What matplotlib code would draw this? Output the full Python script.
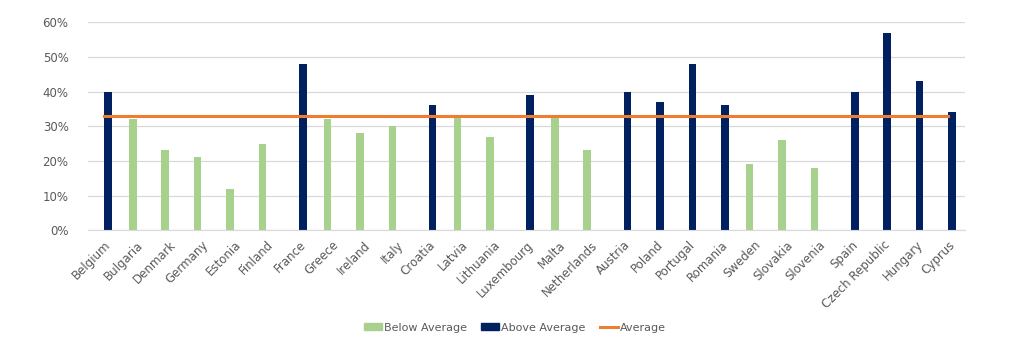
import numpy as np
import matplotlib.pyplot as plt
from matplotlib.patches import Patch
from matplotlib.lines import Line2D
from matplotlib.ticker import PercentFormatter

countries = ["Belgium", "Bulgaria", "Denmark", "Germany", "Estonia", "Finland",
             "France", "Greece", "Ireland", "Italy", "Croatia", "Latvia",
             "Lithuania", "Luxembourg", "Malta", "Netherlands", "Austria",
             "Poland", "Portugal", "Romania", "Sweden", "Slovakia", "Slovenia",
             "Spain", "Czech Republic", "Hungary", "Cyprus"]
below_avg = [None, 32, 23, 21, 12, 25, None, 32, 28, 30, None, 33, 27, None,
             33, 23, None, None, None, None, 19, 26, 18, None, None, None, None]
above_avg = [40, None, None, None, None, None, 48, None, None, None, 36, None,
             None, 39, None, None, 40, 37, 48, 36, None, None, None, 40, 57, 43, 34]
average = 33

GREEN = "#A9D18E"
NAVY = "#002060"
ORANGE = "#ED7D31"
TXT = "#595959"

plt.rcParams["font.family"] = ["DejaVu Sans"]
plt.rcParams["font.size"] = 8.5

fig = plt.figure(figsize=(10.24, 3.43), dpi=100)
ax = fig.add_axes([0.086, 0.329, 0.856, 0.606])

x = np.arange(len(countries))
below = np.array([np.nan if v is None else v for v in below_avg], dtype=float) / 100
above = np.array([np.nan if v is None else v for v in above_avg], dtype=float) / 100
w = 0.235
ax.bar(x - 0.125, below, width=w, color=GREEN, zorder=2)
ax.bar(x + 0.115, above, width=w, color=NAVY, zorder=2)
ax.plot(x, [average / 100] * len(x), color=ORANGE, lw=2.2, zorder=3)

ax.set_xlim(-0.5, len(countries) - 0.5)
ax.set_ylim(0, 0.6)
ax.set_yticks(np.arange(0, 0.61, 0.1))
ax.yaxis.set_major_formatter(PercentFormatter(1.0, decimals=0))
ax.set_xticks(x)
ax.set_xticklabels(countries, rotation=45, ha="right", rotation_mode="anchor")
ax.tick_params(axis="both", length=0, colors=TXT, labelsize=8.5)
ax.tick_params(axis="x", pad=6)
ax.tick_params(axis="y", pad=14)
ax.grid(axis="y", color="#D9D9D9", lw=0.9, zorder=0)
for s in ["top", "right", "left"]:
    ax.spines[s].set_visible(False)
ax.spines["bottom"].set_color("#D9D9D9")

handles = [Patch(color=GREEN, label="Below Average"),
           Patch(color=NAVY, label="Above Average"),
           Line2D([0], [0], color=ORANGE, lw=2.2, label="Average")]
leg = fig.legend(handles=handles, loc="center", bbox_to_anchor=(0.503, 0.045),
                 ncol=3, frameon=False, fontsize=8, handlelength=1.6,
                 handleheight=0.5, handletextpad=0.2, columnspacing=1.3)
for t in leg.get_texts():
    t.set_color(TXT)

fig.savefig("out.png", dpi=100)
